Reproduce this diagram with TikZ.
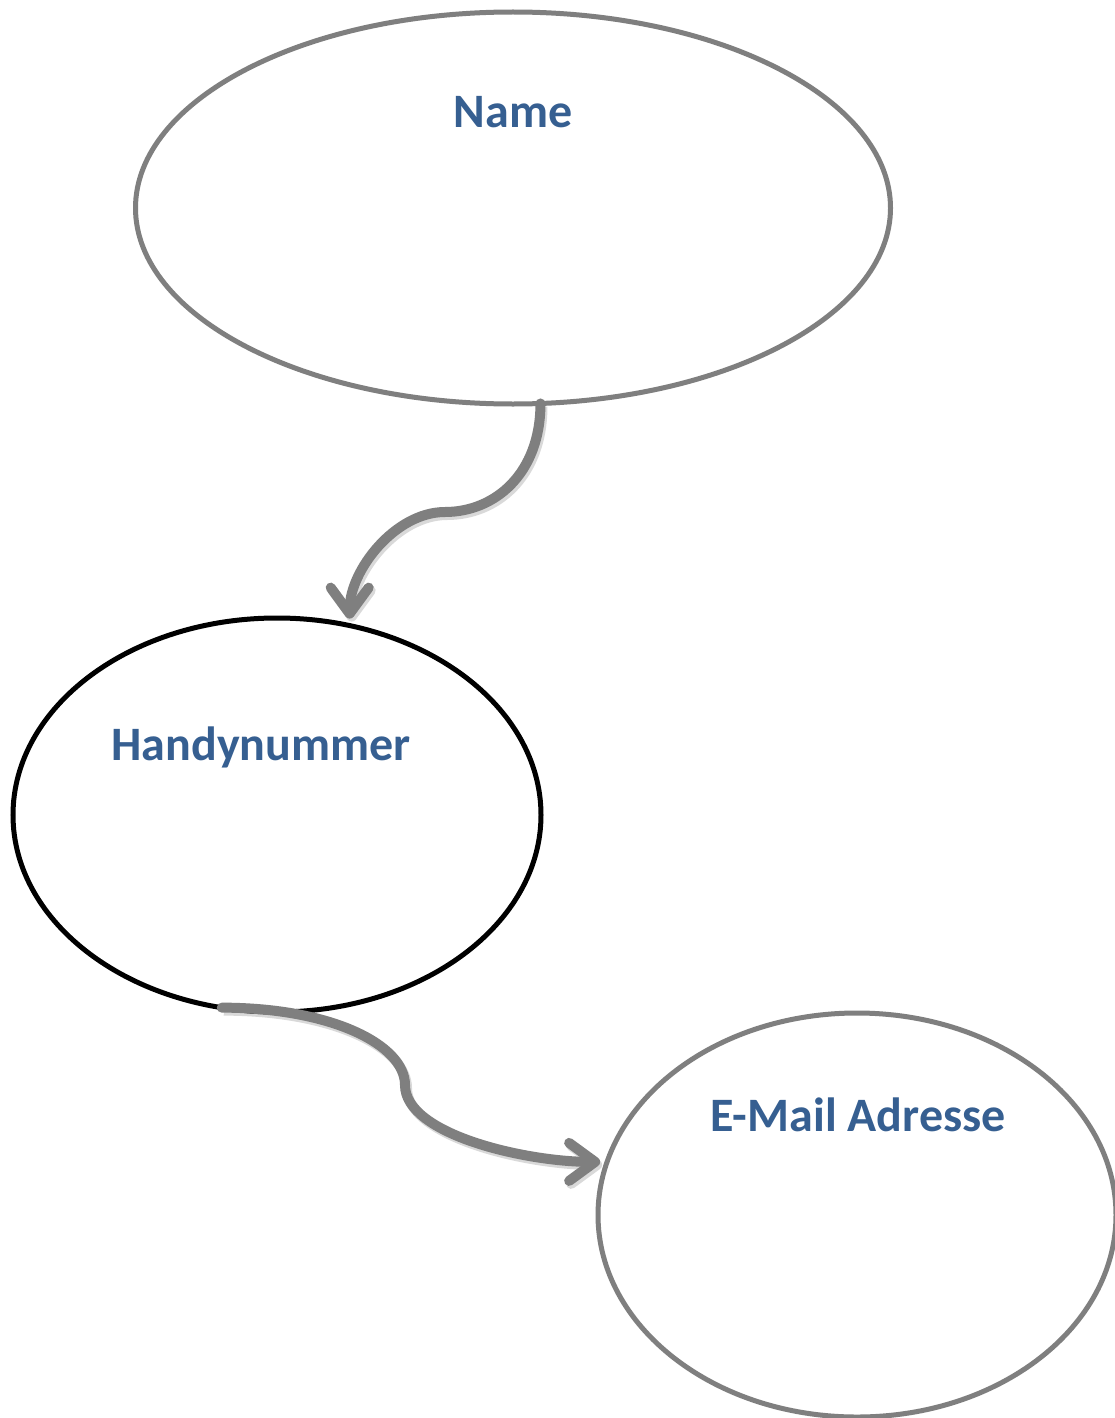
\documentclass[tikz,border=0pt]{standalone}
\usepackage{fontspec}
\setmainfont{Carlito}
\usetikzlibrary{shapes.geometric,arrows.meta}
\definecolor{linegray}{HTML}{7F7F7F}
\definecolor{textblue}{HTML}{365F91}
\begin{document}
\begin{tikzpicture}[x=1pt,y=-1pt,
  bubble/.style={ellipse,draw=linegray,line width=5pt,inner sep=0pt,outer sep=0pt},
  label text/.style={text=textblue,font=\fontsize{48}{56}\selectfont\bfseries,anchor=base,inner sep=0pt},
  flow/.style={draw=linegray,line width=10pt,line cap=round,shorten >=7pt,
    preaction={draw=black,opacity=0.15,line width=10pt,transform canvas={shift={(2pt,-3pt)}}},
    -{Straight Barb[length=26pt,width=38pt,line cap=round,line join=round]}}]
\useasboundingbox (0,0) rectangle (1115,1418);
\fill[white] (0,0) rectangle (1115,1418);

\node[bubble,minimum width=755pt,minimum height=392pt] (name) at (513,208) {};
\node[bubble,draw=black,minimum width=528pt,minimum height=394pt] (handy) at (277,815) {};
\node[bubble,minimum width=518pt,minimum height=404pt] (email) at (857,1215) {};

\node[label text] (tname) at (513,128) {Name};
\node[label text] (thandy) at (261,760) {Handynummer};
\node[label text] (temail) at (858,1131) {E-Mail Adresse};

\coordinate (w1) at (445,512);
\coordinate (w2) at (405,1085);

\draw[flow] (name.-82) .. controls +(0,70) and +(50,0) .. (w1)
  .. controls +(-50,0) and +(0,-55) .. (handy.69);
\draw[flow] (handy.-106) .. controls +(110,0) and +(0,-40) .. (w2)
  .. controls +(0,50) and +(-80,0) .. (email.168);
\end{tikzpicture}
\end{document}
